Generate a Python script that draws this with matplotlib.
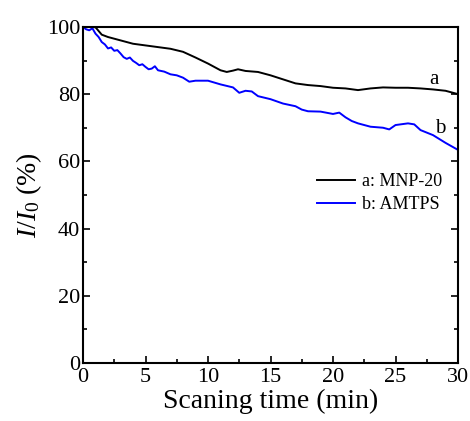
import matplotlib
matplotlib.use("Agg")
import matplotlib.pyplot as plt
from matplotlib.ticker import MultipleLocator

plt.rcParams['font.family'] = ['Liberation Serif', 'DejaVu Serif']
plt.rcParams['mathtext.fontset'] = 'custom'
plt.rcParams['mathtext.rm'] = 'Liberation Serif'
plt.rcParams['mathtext.it'] = 'Liberation Serif:italic'

# a: MNP-20
t_a = [0, 0.5, 1.0, 1.5, 2, 3, 4, 5, 6, 7, 8, 9, 10, 11, 11.5, 12, 12.4, 13, 14,
       15, 16, 17, 18, 19, 20, 21, 22, 23, 24, 25, 26, 27, 28, 29, 30]
i_a = [100, 100, 99.9, 97.7, 97.0, 96.0, 95.0, 94.5, 94.0, 93.5, 92.6, 90.9, 89.1,
       87.1, 86.6, 87.0, 87.4, 86.9, 86.6, 85.6, 84.4, 83.2, 82.7, 82.4, 81.9, 81.7,
       81.2, 81.7, 82.0, 81.9, 81.9, 81.7, 81.4, 81.0, 80.0]

# b: AMTPS
t_b = [0, 0.25, 0.5, 0.75, 1.0, 1.25, 1.5, 1.75, 2, 2.25, 2.5, 2.75, 3, 3.25, 3.5,
       3.75, 4, 4.25, 4.5, 4.75, 5, 5.25, 5.5, 5.75, 6, 6.5, 7, 7.5, 8, 8.5, 9, 10,
       11, 12, 12.5, 13, 13.5, 14, 15, 16, 17, 17.5, 18, 19, 20, 20.5, 21, 21.5, 22,
       23, 24, 24.5, 25, 26, 26.5, 27, 28, 29, 30]
i_b = [100, 99.3, 99.0, 99.6, 98.0, 97.0, 95.5, 94.8, 93.6, 93.9, 92.9, 93.1, 92.1,
       91.0, 90.5, 90.9, 89.9, 89.3, 88.6, 88.9, 88.1, 87.4, 87.6, 88.3, 87.1, 86.7,
       85.9, 85.6, 84.9, 83.7, 84.0, 84.0, 82.9, 82.0, 80.4, 81.0, 80.8, 79.4, 78.5,
       77.2, 76.4, 75.4, 74.9, 74.8, 74.1, 74.5, 73.1, 72.0, 71.3, 70.3, 70.0, 69.5,
       70.8, 71.3, 71.0, 69.3, 67.8, 65.5, 63.4]

fig = plt.figure(figsize=(4.7, 4.21), dpi=100)
ax = fig.add_axes([0.1766, 0.138, 0.7979, 0.798])

ax.plot(t_a, i_a, color='black', lw=1.4, label='a: MNP-20')
ax.plot(t_b, i_b, color='#0000ff', lw=1.4, label='b: AMTPS')

ax.text(27.7, 83.0, 'a', fontsize=15)
ax.text(28.2, 68.3, 'b', fontsize=15)

ax.set_xlim(0, 30)
ax.set_ylim(0, 100)
ax.xaxis.set_major_locator(MultipleLocator(5))
ax.xaxis.set_minor_locator(MultipleLocator(2.5))
ax.yaxis.set_major_locator(MultipleLocator(20))
ax.yaxis.set_minor_locator(MultipleLocator(10))
ax.tick_params(which='both', direction='in', right=True, top=False, width=1.2,
               labelsize=16)
ax.tick_params(axis='x', pad=4)
ax.tick_params(axis='y', pad=2)
ax.tick_params(which='major', length=5)
ax.tick_params(which='minor', length=3)
for s in ax.spines.values():
    s.set_linewidth(1.5)

ax.set_xlabel('Scaning time (min)', fontsize=20, labelpad=1)
ax.set_ylabel(r'$I/I_0$ (%)', fontsize=20, labelpad=2)

ax.legend(loc='center right', bbox_to_anchor=(1.0, 0.505), frameon=False,
          fontsize=13, handlelength=2.1, handletextpad=0.35, labelspacing=0.35)

fig.savefig('out.png', dpi=100)
